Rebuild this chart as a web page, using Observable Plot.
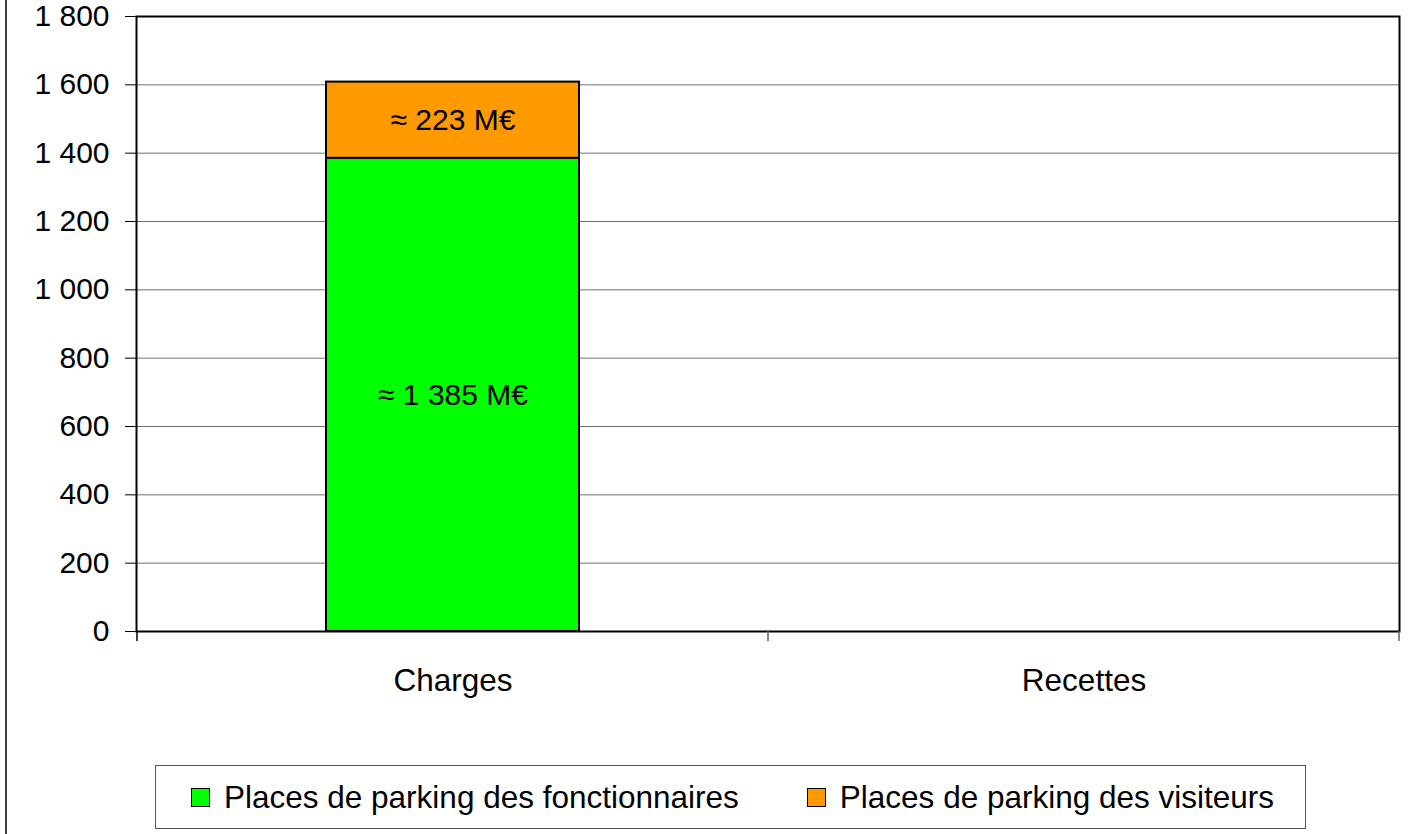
<!DOCTYPE html>
<html>
<head>
<meta charset="utf-8">
<script src="https://cdn.jsdelivr.net/npm/d3@7"></script>
<script src="https://cdn.jsdelivr.net/npm/@observablehq/plot@0.6"></script>
<style>
  html, body { margin: 0; padding: 0; background: #fff; }
  #wrap { position: relative; width: 1416px; height: 834px; overflow: hidden; font-family: "Liberation Sans", Arial, sans-serif; }
  #outer { position: absolute; left: 5px; top: 0; width: 0; height: 834px; border-left: 2px solid #404040; z-index: 3; }
  #chart { position: absolute; left: 0; top: 0; z-index: 1; }
  #legend { position: absolute; left: 155px; top: 765px; width: 1149px; height: 62px; border: 1px solid #555; box-sizing: content-box;
            display: flex; align-items: center; justify-content: flex-start; padding-left: 0; font-size: 31.5px; color: #000; z-index: 2; background: #fff; }
  .item { display: flex; align-items: center; }
  .sw { width: 17px; height: 17px; border: 1.5px solid #000; margin-right: 14px; }
</style>
</head>
<body>
<div id="wrap">
  <div id="outer"></div>
  <div id="chart"></div>
  <div id="legend"></div>
</div>
<script>
const categories = ["Charges", "Recettes"];
const series = ["Places de parking des fonctionnaires", "Places de parking des visiteurs"];
const seriesColors = ["#00ff00", "#ff9900"];
const chargesValues = [1385, 223];   // Charges: fonctionnaires, visiteurs
const recettesValues = [];           // Recettes: no data shown
const yTicks = [0, 200, 400, 600, 800, 1000, 1200, 1400, 1600, 1800];

const fmt = v => d3.format(",")(v).replace(/,/g, " ");

const table = [];
chargesValues.forEach((v, i) => table.push({cat: categories[0], serie: series[i], value: v}));
recettesValues.forEach((v, i) => table.push({cat: categories[1], serie: series[i], value: v}));

const boundaryTicks = (index, scales, values, dimensions) => {
  const x = scales.x;
  const g = d3.create("svg:g");
  if (!x || !x.bandwidth) return g.node();
  const bw = x.bandwidth();
  const edges = [x(categories[0]), ...categories.map(c => x(c) + bw)];
  const y0 = dimensions.height - dimensions.marginBottom;
  edges.forEach((e, i) => g.append("line")
    .attr("x1", e).attr("x2", e).attr("y1", y0).attr("y2", y0 + 10)
    .attr("stroke", i === 0 ? "#000" : "#606060").attr("stroke-width", 1.5));
  return g.node();
};

const chart = Plot.plot({
  width: 1416,
  height: 760,
  marginLeft: 136,
  marginRight: 17,
  marginTop: 16,
  marginBottom: 129,
  style: {fontFamily: "Liberation Sans, Arial, sans-serif", fontSize: "30px", color: "#000", background: "#fff"},
  x: {domain: categories, padding: 0, label: null},
  y: {domain: [0, 1800], label: null},
  color: {domain: series, range: seriesColors},
  marks: [
    Plot.gridY(yTicks, {stroke: "#707070", strokeOpacity: 1, strokeWidth: 1}),
    Plot.barY(table, {x: "cat", y: "value", fill: "serie", stroke: "#000", strokeWidth: 2, insetLeft: 189, insetRight: 189, order: series}),
    Plot.text(table, Plot.stackY({x: "cat", y: "value", z: "serie", order: series, text: d => `≈ ${fmt(d.value)} M€`, fontSize: 30, fill: "#000"})),
    Plot.frame({stroke: "#000", strokeWidth: 2}),
    Plot.axisY({ticks: yTicks, tickSize: 11, tickPadding: 16, tickFormat: fmt, fontSize: 30, stroke: "#000", label: null}),
    Plot.axisX({tickSize: 0, tickPadding: 37, fontSize: 31.5, label: null}),
    boundaryTicks
  ]
});
document.getElementById("chart").appendChild(chart);

const legend = document.getElementById("legend");
series.forEach((s, i) => {
  const it = document.createElement("div");
  it.className = "item";
  it.style.marginLeft = i === 0 ? "35px" : "68px";
  const sw = document.createElement("div");
  sw.className = "sw";
  sw.style.background = seriesColors[i];
  const tx = document.createElement("span");
  tx.textContent = s;
  it.appendChild(sw); it.appendChild(tx);
  legend.appendChild(it);
});
</script>
</body>
</html>
